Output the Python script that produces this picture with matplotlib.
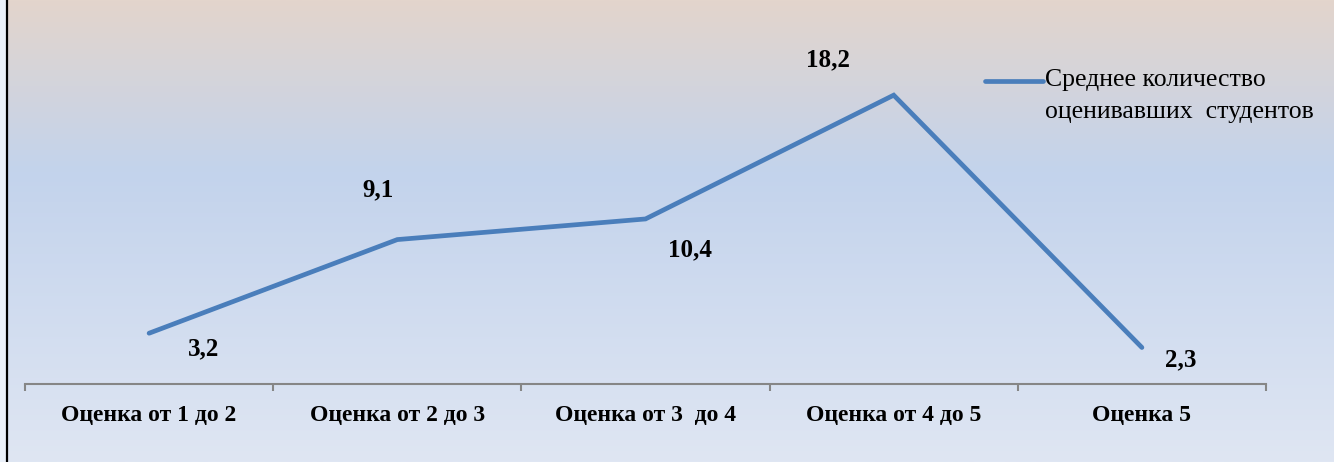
import numpy as np
import matplotlib
matplotlib.use("Agg")
import matplotlib.pyplot as plt
from matplotlib.colors import LinearSegmentedColormap

categories = ["Оценка от 1 до 2", "Оценка от 2 до 3", "Оценка от 3  до 4",
              "Оценка от 4 до 5", "Оценка 5"]
values = [3.2, 9.1, 10.4, 18.2, 2.3]
value_labels = ["3,2", "9,1", "10,4", "18,2", "2,3"]
series_name = "Среднее количество\nоценивавших  студентов"

# label offsets in pixels (dx, dy) relative to the point
label_offsets = [(55, -16), (-19, 50), (45, -31), (-66, 35), (39, -12)]

W, H, DPI = 1334, 462, 100
fig = plt.figure(figsize=(W / DPI, H / DPI), dpi=DPI)

# background gradient
bg = fig.add_axes([0, 0, 1, 1], zorder=-2)
bg_cmap = LinearSegmentedColormap.from_list(
    "bg", [(0.0, "#e3d5cc"), (0.37, "#c3d3ec"), (1.0, "#dfe6f3")])
grad = np.linspace(0, 1, 256).reshape(-1, 1)
bg.imshow(grad, aspect="auto", cmap=bg_cmap, extent=[0, 1, 0, 1], origin="upper")
bg.axvspan(0, 5.5 / W, color="#ebf1fa")
bg.axvline(7 / W, color="black", lw=1.6)
bg.set_xlim(0, 1)
bg.set_ylim(0, 1)
bg.axis("off")

ax = fig.add_axes([25 / W, 1 - 384 / H, (1266 - 25) / W, (384 - 66.6) / H])
ax.patch.set_alpha(0)
x = np.arange(len(categories))
ax.plot(x, values, color="#4a7ebb", lw=3.4, solid_capstyle="round",
        solid_joinstyle="miter", label=series_name)
ax.set_xlim(-0.5, len(categories) - 0.5)
ax.set_ylim(0, 20)

for i, (v, lab, off) in enumerate(zip(values, value_labels, label_offsets)):
    ax.annotate(lab, (i, v), xytext=off, textcoords="offset pixels",
                ha="center", va="center", fontsize=18, fontweight="bold",
                family="Liberation Serif")

for s in ["top", "right", "left"]:
    ax.spines[s].set_visible(False)
ax.spines["bottom"].set_color("#868686")
ax.spines["bottom"].set_linewidth(1.5)
ax.set_yticks([])
ax.set_xticks(np.arange(-0.5, len(categories), 1.0))
ax.set_xticklabels([])
ax.set_xticks(x, minor=True)
ax.set_xticklabels(categories, minor=True, fontsize=17, fontweight="bold",
                   family="Liberation Serif")
ax.tick_params(axis="x", which="major", length=5, width=1.5, color="#868686")
ax.tick_params(axis="x", which="minor", length=0, pad=15)

# legend drawn manually
fig.lines.append(plt.Line2D([985 / W, 1043 / W], [1 - 81 / H, 1 - 81 / H],
                            color="#4a7ebb", lw=3.4, solid_capstyle="round",
                            transform=fig.transFigure))
fig.text(1045 / W, 1 - 96 / H, series_name, ha="left", va="center",
         fontsize=18.5, family="Liberation Serif", linespacing=1.6)

fig.savefig("out.png", dpi=DPI)
